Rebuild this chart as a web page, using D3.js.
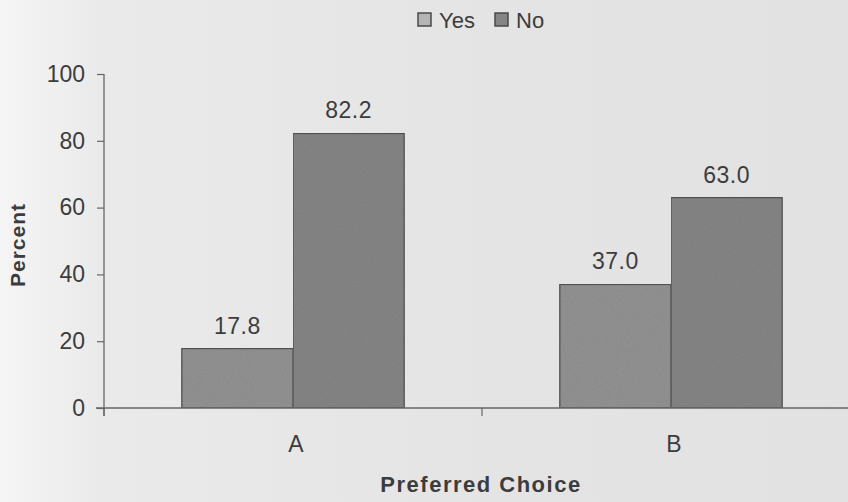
<!DOCTYPE html>
<html>
<head>
<meta charset="utf-8">
<script src="https://cdn.jsdelivr.net/npm/d3@7/dist/d3.min.js"></script>
<style>
  html, body { margin: 0; padding: 0; background: #e6e6e6; }
  svg { display: block; }
  text { font-family: "Liberation Sans", Arial, sans-serif; fill: #3c3c3c; }
</style>
</head>
<body>
<svg id="chart" width="848" height="502"></svg>
<script>
// Survey answers by preferred choice
const categories = ["A", "B"];
const seriesNames = ["Yes", "No"];
const yesValues = [17.8, 37.0];
const noValues = [82.2, 63.0];
const yTicks = [0, 20, 40, 60, 80, 100];

const W = 848, H = 502;
const margin = { left: 104, right: -12, top: 74, bottom: 94 };
const FONT = "'Liberation Sans', Arial, sans-serif";

const svg = d3.select("#chart");
const defs = svg.append("defs");

// paper-like background, lighter towards the left edge
const bg = defs.append("linearGradient").attr("id", "paper").attr("x1", 0).attr("x2", 1).attr("y1", 0).attr("y2", 0);
bg.append("stop").attr("offset", "0%").attr("stop-color", "#f5f5f5");
bg.append("stop").attr("offset", "12%").attr("stop-color", "#eaeaea");
bg.append("stop").attr("offset", "60%").attr("stop-color", "#e4e4e4");
bg.append("stop").attr("offset", "100%").attr("stop-color", "#e2e2e2");
svg.append("rect").attr("width", W).attr("height", H).attr("fill", "url(#paper)");

// grainy print texture for the bars
const grain = defs.append("filter").attr("id", "grain").attr("x", 0).attr("y", 0).attr("width", 1).attr("height", 1);
grain.append("feTurbulence").attr("type", "fractalNoise").attr("baseFrequency", 0.9).attr("numOctaves", 2).attr("seed", 3).attr("result", "noise");
grain.append("feColorMatrix").attr("in", "noise").attr("type", "matrix")
  .attr("values", "0 0 0 0 0  0 0 0 0 0  0 0 0 0 0  0 0 0 0.18 0").attr("result", "dots");
grain.append("feComposite").attr("in", "dots").attr("in2", "SourceGraphic").attr("operator", "in").attr("result", "dotsIn");
grain.append("feMerge").call(m => { m.append("feMergeNode").attr("in", "SourceGraphic"); m.append("feMergeNode").attr("in", "dotsIn"); });

const x0 = d3.scaleBand().domain(categories).range([margin.left, W - margin.right]).paddingInner(0).paddingOuter(0);
const x1 = d3.scaleBand().domain(seriesNames).range([0, x0.bandwidth()]).paddingInner(0).paddingOuter(0.7);
const y = d3.scaleLinear().domain([0, 100]).range([H - margin.bottom, margin.top]);

const colors = { Yes: "#949494", No: "#878787" };

const rows = categories.map((c, i) => ({ cat: c, values: [{ key: "Yes", v: yesValues[i] }, { key: "No", v: noValues[i] }] }));

// bars
const groups = svg.append("g").selectAll("g").data(rows).join("g")
  .attr("transform", d => `translate(${x0(d.cat)},0)`);

groups.selectAll("rect").data(d => d.values).join("rect")
  .attr("x", d => x1(d.key))
  .attr("y", d => y(d.v))
  .attr("width", x1.bandwidth())
  .attr("height", d => y(0) - y(d.v))
  .attr("fill", d => colors[d.key])
  .attr("stroke", "#555")
  .attr("stroke-width", 1.3)
  .attr("filter", "url(#grain)");

// value labels
groups.selectAll("text.val").data(d => d.values).join("text")
  .attr("class", "val")
  .attr("x", d => x1(d.key) + x1.bandwidth() / 2)
  .attr("y", d => y(d.v) - 15)
  .attr("text-anchor", "middle")
  .attr("font-family", FONT)
  .attr("font-size", 23)
  .attr("letter-spacing", 0.5)
  .text(d => d.v.toFixed(1));

// y axis
const yAxis = svg.append("g").attr("transform", `translate(${margin.left},0)`)
  .call(d3.axisLeft(y).tickValues(yTicks).tickSize(7).tickPadding(12).tickSizeOuter(0));
yAxis.select(".domain").attr("stroke", "#666").attr("stroke-width", 1.3).attr("d", `M0,${y(100)}V${y(0) + 8}`);
yAxis.selectAll(".tick line").attr("stroke", "#666").attr("stroke-width", 1.2);
yAxis.selectAll(".tick text").attr("font-size", 23).attr("fill", "#3c3c3c").attr("font-family", FONT);

// x axis: category labels centred, tick marks between categories
const xAxisG = svg.append("g").attr("transform", `translate(0,${y(0)})`);
xAxisG.append("line").attr("x1", margin.left - 8).attr("x2", W).attr("y1", 0).attr("y2", 0)
  .attr("stroke", "#666").attr("stroke-width", 1.3);
const boundaries = categories.map(c => x0(c)).concat([x0(categories[categories.length - 1]) + x0.bandwidth()]);
xAxisG.selectAll("line.tk").data(boundaries).join("line").attr("class", "tk")
  .attr("x1", d => d).attr("x2", d => d).attr("y1", 0).attr("y2", 8)
  .attr("stroke", "#666").attr("stroke-width", 1.2);
xAxisG.selectAll("text").data(categories).join("text")
  .attr("x", d => x0(d) + x0.bandwidth() / 2 + 3)
  .attr("y", 44)
  .attr("text-anchor", "middle")
  .attr("font-family", FONT)
  .attr("font-size", 23)
  .text(d => d);

// axis titles
svg.append("text")
  .attr("x", 481)
  .attr("y", 492)
  .attr("text-anchor", "middle")
  .attr("font-family", FONT)
  .attr("font-size", 22)
  .attr("font-weight", "bold")
  .attr("letter-spacing", 1.5)
  .attr("fill", "#4a4a4a")
  .text("Preferred Choice");

svg.append("text")
  .attr("transform", `translate(25,245) rotate(-90)`)
  .attr("text-anchor", "middle")
  .attr("font-family", FONT)
  .attr("font-size", 21)
  .attr("font-weight", "bold")
  .attr("letter-spacing", 1)
  .attr("fill", "#4a4a4a")
  .text("Percent");

// legend
const legend = svg.append("g").attr("transform", "translate(418,13)");
const legendItems = [{ key: "Yes", x: 0 }, { key: "No", x: 77 }];
const li = legend.selectAll("g").data(legendItems).join("g").attr("transform", d => `translate(${d.x},0)`);
li.append("rect").attr("width", 13).attr("height", 13)
  .attr("fill", d => d.key === "Yes" ? "#b4b4b4" : "#858585")
  .attr("stroke", "#4a4a4a").attr("stroke-width", 1.5);
li.append("text").attr("x", 21).attr("y", 14.5).attr("font-family", FONT).attr("font-size", 22)
  .text(d => d.key);
</script>
</body>
</html>
